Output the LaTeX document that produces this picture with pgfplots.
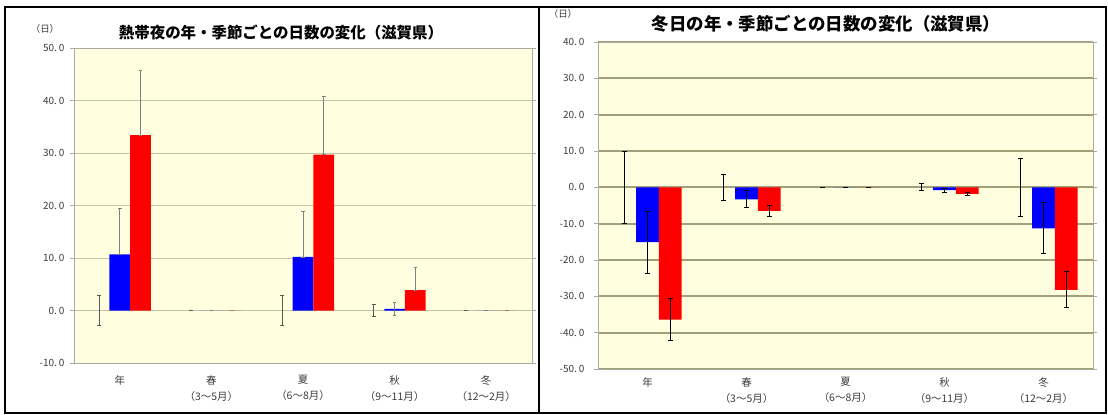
\documentclass[border=0pt]{standalone}
\usepackage{pgfplots}
\pgfplotsset{compat=1.18}
\usepackage{pgfplotstable}
\usepackage{fontspec}
\setmainfont{Noto Sans CJK JP}
\newfontfamily\cjk{Noto Sans CJK JP}

\definecolor{plotbg}{RGB}{255,255,224}
\definecolor{gridA}{RGB}{196,196,165}
\definecolor{gridB}{RGB}{160,160,122}
\definecolor{frameC}{RGB}{170,170,160}
\definecolor{barblue}{RGB}{0,0,255}
\definecolor{barred}{RGB}{255,0,0}
\definecolor{ticktext}{RGB}{60,60,60}

% 熱帯夜 (left): x = category index, y = change in days,
% ep / em = upper / lower whisker length
\pgfplotstableread{
x y ep em
0 0 2.9 2.9
1 0 0 0
2 0 2.9 2.9
3 0 1.1 1.1
4 0 0 0
}\tnBase
\pgfplotstableread{
x y ep em
0 10.7 8.7 0
1 0 0 0
2 10.2 8.6 0
3 0.3 1.2 1.2
4 0 0 0
}\tnBlue
\pgfplotstableread{
x y ep em
0 33.4 12.3 0
1 0 0 0
2 29.7 11.0 0
3 3.9 4.4 0
4 0 0 0
}\tnRed

% 冬日 (right)
\pgfplotstableread{
x y e
0 0 10.0
1 0 3.5
2 0 0
3 0 1.0
4 0 8.0
}\fdBase
\pgfplotstableread{
x y e
0 -15.1 8.5
1 -3.3 2.3
2 0 0
3 -0.8 0.6
4 -11.3 7.0
}\fdBlue
\pgfplotstableread{
x y e
0 -36.4 5.8
1 -6.5 1.4
2 0 0
3 -1.8 0.4
4 -28.2 4.9
}\fdRed

\pgfplotsset{
  seasonaxis/.style={
    anchor=south west, scale only axis,
    xmin=-0.5, xmax=4.5,
    ybar=0pt,
    axis background/.style={fill=plotbg},
    axis line style={frameC, line width=0.9bp},
    xtick={0,1,2,3,4},
    xticklabels={年, {春\\（3～5月）}, {夏\\（6～8月）}, {秋\\（9～11月）}, {冬\\（12～2月）}},
    xticklabel style={align=center, font=\cjk\fontsize{10.5}{16}\selectfont, text=ticktext},
    x tick style={draw=none},
    ymajorgrids,
    y tick style={frameC, line width=0.8bp},
    tick align=outside,
    major tick length=4bp,
    yticklabel style={font=\cjk\fontsize{10}{11}\selectfont, text=ticktext},
    /pgf/number format/.cd, fixed, fixed zerofill, precision=1, assume math mode=true,
      set decimal separator={.\hspace{2bp}},
  },
}

\begin{document}
\begin{tikzpicture}[x=1bp,y=1bp]
\path[use as bounding box] (0,0) rectangle (1108,414);
\fill[white] (0,0) rectangle (1108,414);

% panel frames
\draw[black, line width=1.6bp] (5,1) rectangle (539,407);
\draw[black, line width=1.6bp] (539,1) rectangle (1106,407);

% ---- left panel ----
\node[font=\cjk\bfseries\fontsize{15.5}{17}\selectfont] at (281,381) {熱帯夜の年・季節ごとの日数の変化（滋賀県）};
\node[font=\cjk\fontsize{9.5}{10}\selectfont, text=ticktext] at (45,385) {（日）};
\begin{axis}[seasonaxis,
  at={(74bp,51bp)}, width=458bp, height=315bp,
  ymin=-10, ymax=50, ytick={-10,0,...,50},
  grid style={gridA, line width=0.8bp},
  bar width=0.226,
  xticklabel style={yshift=-5bp},
  yticklabel style={xshift=-2bp},
  error bars/error bar style={gray, line width=0.7bp},
  error bars/error mark options={rotate=90, gray, mark size=1.8bp, line width=0.7bp},
]
\addplot[draw=none, fill=none,
  error bars/.cd, y dir=both, y explicit,
  error bar style={black!65, line width=0.9bp},
  error mark options={rotate=90, black!65, mark size=2bp, line width=0.9bp}]
  table[x=x, y=y, y error plus=ep, y error minus=em] {\tnBase};
\addplot[fill=barblue, draw=none,
  error bars/.cd, y dir=both, y explicit]
  table[x=x, y=y, y error plus=ep, y error minus=em] {\tnBlue};
\addplot[fill=barred, draw=none,
  error bars/.cd, y dir=both, y explicit]
  table[x=x, y=y, y error plus=ep, y error minus=em] {\tnRed};
\end{axis}

% ---- right panel ----
\node[font=\cjk\bfseries\fontsize{17.5}{19}\selectfont] at (826,390) {冬日の年・季節ごとの日数の変化（滋賀県）};
\node[font=\cjk\fontsize{9.5}{10}\selectfont, text=ticktext] at (563,400) {（日）};
\begin{axis}[seasonaxis,
  at={(598bp,45bp)}, width=495bp, height=327bp,
  ymin=-50, ymax=40, ytick={-50,-40,...,40},
  grid style={gridB, line width=1.8bp},
  bar width=0.23,
  xticklabel style={yshift=-1bp},
  yticklabel style={xshift=-6bp},
  error bars/error bar style={black, line width=1bp},
  error bars/error mark options={rotate=90, black, mark size=2.5bp, line width=1bp},
]
\addplot[draw=none, fill=none,
  error bars/.cd, y dir=both, y explicit]
  table[x=x, y=y, y error=e] {\fdBase};
\addplot[fill=barblue, draw=none,
  error bars/.cd, y dir=both, y explicit]
  table[x=x, y=y, y error=e] {\fdBlue};
\addplot[fill=barred, draw=none,
  error bars/.cd, y dir=both, y explicit]
  table[x=x, y=y, y error=e] {\fdRed};
\end{axis}
\end{tikzpicture}
\end{document}
